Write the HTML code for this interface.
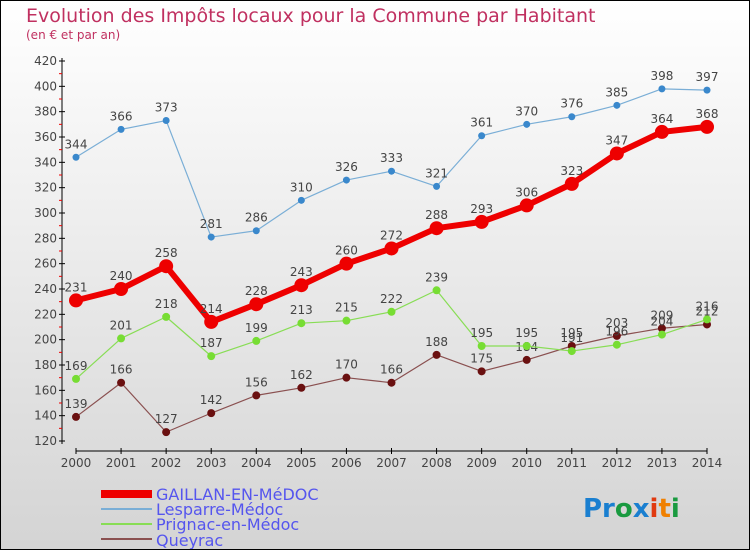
<!DOCTYPE html>
<html><head><meta charset="utf-8"><style>
body{margin:0}
#c{width:748px;height:548px;border:1px solid #000;background:linear-gradient(#fff,#d4d4d4);position:relative;font-family:"DejaVu Sans","Liberation Sans",sans-serif;overflow:hidden}
</style></head><body>
<div id="c">
<svg width="748" height="548" id="s">
<text x="25" y="21" font-size="19" fill="#c03060">Evolution des Impôts locaux pour la Commune par Habitant</text>
<text x="25" y="38" font-size="12" fill="#c03060">(en € et par an)</text>
<g id="ax"></g><g id="ser"></g>
<g font-size="16" fill="#5555ee">
<rect x="100" y="489" width="51" height="8" fill="#e00"/>
<text x="155" y="499">GAILLAN-EN-MéDOC</text>
<rect x="100" y="507" width="51" height="2" fill="#7aaed6"/>
<text x="155" y="514">Lesparre-Médoc</text>
<rect x="100" y="522" width="51" height="2" fill="#88dd55"/>
<text x="155" y="529">Prignac-en-Médoc</text>
<rect x="100" y="537" width="51" height="2" fill="#8a5050"/>
<text x="155" y="545">Queyrac</text>
</g>
<text x="582" y="516" font-size="26" font-weight="bold"><tspan fill="#1a7fd0">Pr</tspan><tspan fill="#1a9a40">o</tspan><tspan fill="#1a7fd0">x</tspan><tspan fill="#e03a10">i</tspan><tspan fill="#f08000">t</tspan><tspan fill="#1a9a40">i</tspan></text>
</svg></div>
<script>
const years=[2000,2001,2002,2003,2004,2005,2006,2007,2008,2009,2010,2011,2012,2013,2014];
const yTicks=[120,140,160,180,200,220,240,260,280,300,320,340,360,380,400,420];
const gaillan=[231,240,258,214,228,243,260,272,288,293,306,323,347,364,368];
const lesparre=[344,366,373,281,286,310,326,333,321,361,370,376,385,398,397];
const prignac=[169,201,218,187,199,213,215,222,239,195,195,191,196,204,216];
const queyrac=[139,166,127,142,156,162,170,166,188,175,184,195,203,209,212];
const NS="http://www.w3.org/2000/svg";
const X=i=>75+i*(706-75)/14;
const Y=v=>440-(v-120)*380/300;
function mk(t,a,p){const e=document.createElementNS(NS,t);for(const k in a)e.setAttribute(k,a[k]);p.appendChild(e);return e;}
const ax=document.getElementById('ax');
const yl=mk('line',{x1:61,y1:57,x2:61,y2:443,stroke:'#000'},ax);


const xl=mk('line',{x1:75,y1:450,x2:706,y2:450,stroke:'#000'},ax);


yTicks.forEach(v=>{
  mk('line',{x1:58,x2:64,y1:Y(v),y2:Y(v),stroke:'#000'},ax);
  if(v<420) mk('line',{x1:58,x2:61,y1:Y(v+10),y2:Y(v+10),stroke:'#e00'},ax);
  const t=mk('text',{x:56,y:Y(v)+4,'text-anchor':'end','font-size':12,fill:'#444'},ax);
  t.textContent=v;
  
  
});
years.forEach((y,i)=>{
  mk('line',{x1:X(i),x2:X(i),y1:447,y2:453,stroke:'#000'},ax);
  const t=mk('text',{x:X(i),y:466,'text-anchor':'middle','font-size':12,fill:'#444'},ax);
  t.textContent=y;
  
  
});
const ser=document.getElementById('ser');
function series(d,name,col,dot,w,r){
  const g=mk('g',{},ser);
  
  
  const pl=mk('polyline',{points:d.map((v,i)=>X(i)+','+Y(v)).join(' '),fill:'none',stroke:col,'stroke-width':w,'stroke-linejoin':'round'},g);
  
  
  d.forEach((v,i)=>{
    const c=mk('circle',{cx:X(i),cy:Y(v),r:r,fill:dot},g);
    
    
    const t=mk('text',{x:X(i),y:Y(v)-9,'text-anchor':'middle','font-size':12,fill:'#444'},g);
    t.textContent=v;
    
    
  });
}
series(queyrac,'queyrac','#8a5050','#6a1010',1.2,4);
series(prignac,'prignac','#88dd55','#77dd33',1.2,4);
series(lesparre,'lesparre','#7aaed6','#3a88cc',1.2,3.5);
series(gaillan,'gaillan','#e00','#e00',6,7);
</script>
</body></html>
